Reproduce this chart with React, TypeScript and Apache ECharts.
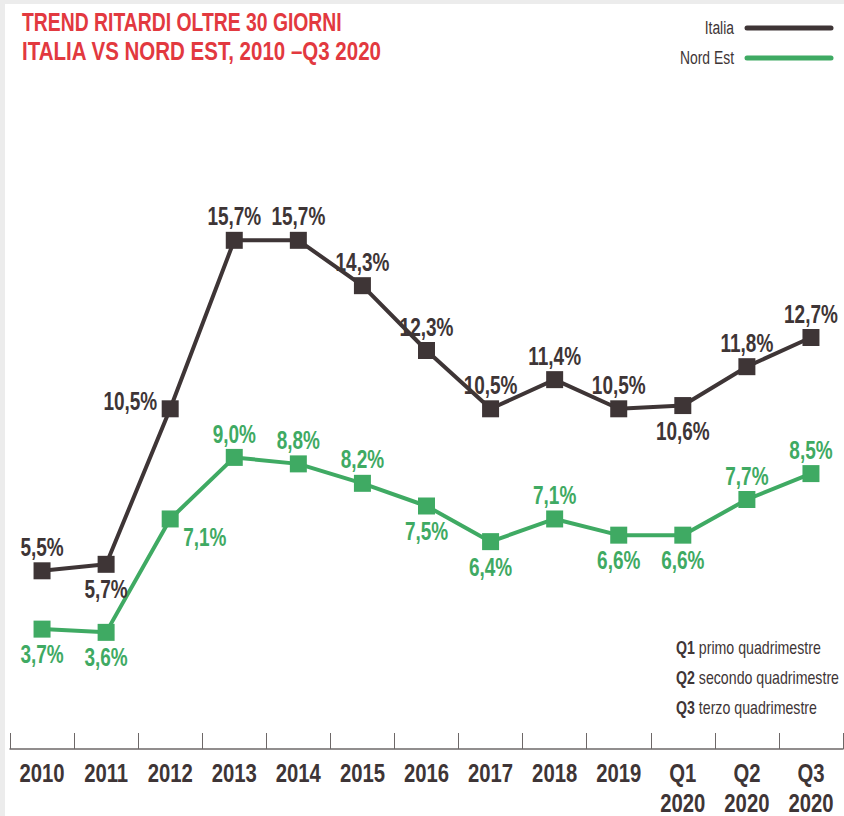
import React, { useEffect, useRef } from "react";
import * as echarts from "echarts";

const categories = ["2010", "2011", "2012", "2013", "2014", "2015", "2016", "2017", "2018", "2019", "Q1\n2020", "Q2\n2020", "Q3\n2020"];
const italiaValues = [5.5, 5.7, 10.5, 15.7, 15.7, 14.3, 12.3, 10.5, 11.4, 10.5, 10.6, 11.8, 12.7];
const nordEstValues = [3.7, 3.6, 7.1, 9.0, 8.8, 8.2, 7.5, 6.4, 7.1, 6.6, 6.6, 7.7, 8.5];
// label placement per point
const italiaLabelPos = ["top", "bottom", "left", "top", "top", "top", "top", "top", "top", "top", "bottom", "top", "top"];
const nordEstLabelPos = ["bottom", "bottom", "right", "top", "top", "top", "bottom", "bottom", "top", "bottom", "bottom", "top", "top"];
const titleLines = ["TREND RITARDI OLTRE 30 GIORNI", "ITALIA VS NORD EST, 2010 –Q3 2020"];
const notes = [
  ["Q1", "primo quadrimestre"],
  ["Q2", "secondo quadrimestre"],
  ["Q3", "terzo quadrimestre"],
];

const DARK = "#3e3536";
const GREEN = "#3faa63";
const RED = "#e2393f";
const FONT = "'Liberation Sans', Arial, sans-serif";

const fmt = (v: number) => v.toFixed(1).replace(".", ",") + "%";

let ctx: CanvasRenderingContext2D | null = null;
function measure(text: string, font: string) {
  if (!ctx) ctx = document.createElement("canvas").getContext("2d");
  ctx!.font = font;
  return ctx!.measureText(text).width;
}

const LABEL_FONT = `bold 26px ${FONT}`;
const LABEL_SCALE = 0.73;
const AXIS_FONT = `bold 26px ${FONT}`;
const AXIS_SCALE = 0.78;

function labelSeries(name: string, vals: number[], pos: string[], color: string, special: Record<number, number[]>) {
  return {
    name: name + "-labels",
    type: "custom",
    clip: false,
    silent: true,
    z: 5,
    data: vals.map((v, i) => [i, v]),
    renderItem: (params: any, api: any) => {
      const i = params.dataIndex;
      const pt = api.coord([api.value(0), api.value(1)]);
      const p = pos[i];
      let x = pt[0];
      let y = pt[1];
      let align = "center";
      if (p === "top") y -= 24;
      else if (p === "bottom") y += 25;
      else if (p === "left") { x -= 13; align = "right"; }
      else if (p === "right") { x += 13; align = "left"; }
      const off = special[i];
      if (off) { x += off[0]; y += off[1]; }
      return {
        type: "text",
        x,
        y,
        scaleX: LABEL_SCALE,
        style: { text: fmt(vals[i]), font: LABEL_FONT, fill: color, align, verticalAlign: "middle" },
      };
    },
  };
}

export default function App() {
  const ref = useRef<HTMLDivElement>(null);
  useEffect(() => {
    document.body.style.margin = "0";
    const chart = echarts.init(ref.current!, null, { renderer: "svg" });

    const titleFont = `bold 26px ${FONT}`;
    const titleTargets = [320, 360];
    const legFont = `19px ${FONT}`;
    const legScale = 54 / measure("Nord Est", legFont);
    const noteBold = `bold 19px ${FONT}`;
    const noteReg = `19px ${FONT}`;
    const noteScale = 163 / (measure("Q2", noteBold) + measure(" secondo quadrimestre", noteReg));

    const option: any = {
      animation: false,
      backgroundColor: "#ffffff",
      grid: { left: 10, right: 1, top: 101, bottom: 67 },
      xAxis: {
        type: "category",
        data: categories,
        boundaryGap: true,
        axisLine: { lineStyle: { color: "#6d6868", width: 1.5 } },
        axisTick: { show: true, inside: true, length: 16, lineStyle: { color: "#6d6868", width: 1 } },
        axisLabel: { show: false },
      },
      yAxis: { type: "value", min: 0, max: 20, show: false, splitLine: { show: false } },
      series: [
        {
          name: "Italia",
          type: "line",
          data: italiaValues,
          symbol: "rect",
          symbolSize: 17,
          itemStyle: { color: DARK },
          lineStyle: { color: DARK, width: 4 },
          z: 3,
        },
        {
          name: "Nord Est",
          type: "line",
          data: nordEstValues,
          symbol: "rect",
          symbolSize: 17,
          itemStyle: { color: GREEN },
          lineStyle: { color: GREEN, width: 4 },
          z: 3,
        },
        labelSeries("Italia", italiaValues, italiaLabelPos, DARK, { 2: [0, -8] }),
        labelSeries("Nord Est", nordEstValues, nordEstLabelPos, GREEN, { 2: [0, 18] }),
        {
          name: "axis-labels",
          type: "custom",
          clip: false,
          silent: true,
          data: categories.map((c, i) => [i, 0]),
          renderItem: (params: any, api: any) => {
            const i = params.dataIndex;
            const pt = api.coord([api.value(0), 0]);
            return {
              type: "text",
              x: pt[0],
              y: pt[1] + 9,
              scaleX: AXIS_SCALE,
              style: {
                text: categories[i],
                font: AXIS_FONT,
                fill: DARK,
                align: "center",
                verticalAlign: "top",
                lineHeight: 30,
              },
            };
          },
        },
      ],
      graphic: [
        { type: "rect", shape: { x: 0, y: 0, width: 844, height: 4 }, style: { fill: "#ececec" }, silent: true },
        { type: "rect", shape: { x: 0, y: 0, width: 5, height: 816 }, style: { fill: "#ececec" }, silent: true },
        ...titleLines.map((t, i) => ({
          type: "text",
          x: 22,
          y: 22 + i * 29,
          scaleX: titleTargets[i] / measure(t, titleFont),
          style: { text: t, fill: RED, font: titleFont, align: "left", verticalAlign: "middle" },
        })),
        { type: "text", x: 734, y: 28, scaleX: legScale, style: { text: "Italia", fill: DARK, font: legFont, align: "right", verticalAlign: "middle" } },
        { type: "text", x: 734, y: 58, scaleX: legScale, style: { text: "Nord Est", fill: DARK, font: legFont, align: "right", verticalAlign: "middle" } },
        { type: "line", shape: { x1: 747, y1: 28, x2: 831, y2: 28 }, style: { stroke: DARK, lineWidth: 5, lineCap: "round" } },
        { type: "line", shape: { x1: 747, y1: 58, x2: 831, y2: 58 }, style: { stroke: GREEN, lineWidth: 5, lineCap: "round" } },
        ...notes.flatMap((n, i) => {
          const bw = measure(n[0], noteBold) * noteScale;
          return [
            { type: "text", x: 676, y: 648 + i * 30, scaleX: noteScale, style: { text: n[0], fill: DARK, font: noteBold, align: "left", verticalAlign: "middle" } },
            { type: "text", x: 676 + bw, y: 648 + i * 30, scaleX: noteScale, style: { text: " " + n[1], fill: DARK, font: noteReg, align: "left", verticalAlign: "middle" } },
          ];
        }),
      ],
    };
    chart.setOption(option);
    return () => chart.dispose();
  }, []);
  return <div ref={ref} style={{ width: 844, height: 816, position: "fixed", left: 0, top: 0 }} />;
}
